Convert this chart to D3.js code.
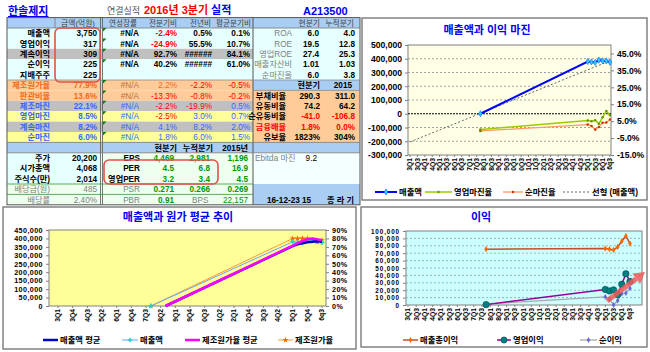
<!DOCTYPE html>
<html lang="ko">
<head>
<meta charset="UTF-8" />
<title>한솔제지 2016년 3분기 실적</title>
<script src="https://cdn.jsdelivr.net/npm/d3@7"></script>
<style>
  body { margin: 0; background: #fff; }
  text { font-family: "Liberation Sans", "Noto Sans CJK KR", sans-serif; }
</style>
</head>
<body>
<svg id="sheet" width="650" height="352"></svg>
<script>
// ---------- 표 데이터 ----------
const headLabels = ["금액(억원)", "연성장률", "전분기비", "전년비", "평균분기비"];
const rowLabels = ["매출액", "영업이익", "계속이익", "순이익", "지배주주", "제조원가율", "판관비율", "제조마진", "영업마진", "계속마진", "순마진"];
const rowKinds = ["k", "k", "kg", "k", "k", "cost", "cost", "mg", "m", "mg", "m"];
const amounts = ["3,750", "317", "309", "225", "225", "77.9%", "13.6%", "22.1%", "8.5%", "8.2%", "6.0%"];
const annualGrowth = ["#N/A", "#N/A", "#N/A", "#N/A", "", "#N/A", "#N/A", "#N/A", "#N/A", "#N/A", "#N/A"];
const vsPrevQ = ["-2.4%", "-24.9%", "92.7%", "40.2%", "", "2.2%", "-13.3%", "-2.2%", "-2.5%", "4.1%", "1.8%"];
const vsPrevY = ["0.5%", "55.5%", "######", "######", "", "-2.2%", "-0.8%", "-19.9%", "3.0%", "8.2%", "6.0%"];
const vsAvgQ = ["0.1%", "10.7%", "84.1%", "61.0%", "", "-0.5%", "-0.2%", "0.5%", "0.7%", "2.0%", "1.5%"];

const ratioLabels = ["ROA", "ROE", "영업ROE", "매출자산비", "순마진율"];
const ratioNow = ["6.0", "19.5", "27.4", "1.01", "6.0"];
const ratioCum = ["4.0", "12.8", "25.3", "1.03", "3.8"];
const debtLabels = ["부채비율", "유동비율", "순유동비율", "금융배율", "유보율"];
const debtNow = ["290.3", "74.2", "-41.0", "1.8%", "1823%"];
const debt2015 = ["311.0", "64.2", "-106.8", "0.0%", "304%"];

const stockLabels = ["주가", "시가총액", "주식수(만)", "배당금(원)", "배당률"];
const stockValues = ["20,200", "4,068", "2,014", "485", "2.40%"];
const valueLabels = ["EPS", "PER", "영업PER", "PSR", "PBR"];
const valueNow = ["4,469", "4.5", "3.2", "0.271", "0.91"];
const valueCum = ["2,981", "6.8", "3.4", "0.266", "BPS"];
const value2015 = ["1,196", "16.9", "4.5", "0.269", "22,157"];

// ---------- 차트 데이터 (백만원, %) ----------
const quarters = ["03Q1","03Q2","03Q3","03Q4","04Q1","04Q2","04Q3","04Q4","05Q1","05Q2","05Q3","05Q4",
  "06Q1","06Q2","06Q3","06Q4","07Q1","07Q2","07Q3","07Q4","08Q1","08Q2","08Q3","08Q4",
  "09Q1","09Q2","09Q3","09Q4","10Q1","10Q2","10Q3","10Q4","11Q1","11Q2","11Q3","11Q4",
  "12Q1","12Q2","12Q3","12Q4","13Q1","13Q2","13Q3","13Q4","14Q1","14Q2","14Q3","14Q4",
  "15Q1","15Q2","15Q3","15Q4","16Q1","16Q2","16Q3"];
const dataQ = ["07Q4", "15Q1", "15Q2", "15Q3", "15Q4", "16Q1", "16Q2", "16Q3"];
const revenue = [0, 380000, 377000, 373000, 390000, 385000, 384200, 375000];
const opMargin = [0, 5.4, 5.0, 5.5, 3.4, 7.3, 11.0, 8.5];
const netMargin = [-0.8, 3.0, 2.2, 0.0, 1.6, 4.0, 4.2, 6.0];
const revenueTrend = [-205000, 385000];
const grossProfit = [75500, 76300, 75400, 74400, 78500, 86100, 93300, 83000];
const opIncome = [500, 21000, 19000, 20500, 14000, 28000, 42200, 31700];
const netIncome = [1500, 11000, 8300, 0, 6000, 15400, 16100, 22500];
const costRatio = [0, 79.9, 80.0, 80.1, 79.9, 77.7, 75.7, 77.9];
const avgQ = ["08Q3", "15Q1", "15Q2", "15Q3", "15Q4", "16Q1", "16Q2", "16Q3"];
const revenueAvg = [0, 355000, 365000, 372000, 378000, 380000, 384000, 381000];
const costRatioAvg = [0, 71.4, 74.5, 77.0, 79.0, 80.0, 79.0, 78.0];
const marginTicks = [-15, -5, 5, 15, 25, 35, 45];

const svg = d3.select("#sheet");
const qLabel = q => q === "16Q3" ? "6q3" : q.slice(1);
const comma = d => d3.format(",")(d).replace("−", "-");

// ---------- 제목 줄 ----------
svg.append("text").attr("x", 8).attr("y", 15).attr("font-size", 11).attr("font-weight", "bold")
  .attr("fill", "#0000EE").attr("text-decoration", "underline").text("한솔제지");
svg.append("text").attr("x", 107).attr("y", 14).attr("font-size", 9).attr("fill", "#555").text("연결실적");
const head = svg.append("text").attr("x", 144).attr("y", 14).attr("font-size", 11).attr("font-weight", "bold");
head.append("tspan").attr("fill", "#FF0000").text("2016년 3분기 ");
head.append("tspan").attr("fill", "#0000EE").text("실적");
svg.append("text").attr("x", 303).attr("y", 15).attr("font-size", 11).attr("font-weight", "bold")
  .attr("fill", "#0000EE").text("A213500");

// ---------- 표 ----------
const T0 = 17.6, RH = 10.4;
const mid = i => T0 + i * RH + RH / 2 + 3;
const C = { head: "#A9CDF3", cyan: "#E6FFFF", gray: "#C0C0C0", orange: "#FFCC99", yellow: "#FFFF99",
  green: "#EFFFEF", red: "#FF0000", blue: "#3366FF", cost: "#F26A1B", val: "#009900", dim: "#808080" };

function band(x0, x1, i0, i1, fill) {
  svg.append("rect").attr("x", x0).attr("y", T0 + i0 * RH).attr("width", x1 - x0)
    .attr("height", (i1 - i0) * RH).attr("fill", fill);
}
function cell(x, i, s, o = {}) {
  svg.append("text").attr("x", x).attr("y", mid(i)).attr("font-size", o.size || 8.2)
    .attr("font-weight", o.bold === false ? "normal" : "bold")
    .attr("text-anchor", o.anchor || "end").attr("fill", o.color || "#000").text(s);
}

band(7, 360, 0, 1, C.head);
rowKinds.forEach((k, r) => {
  band(7, 253, r + 1, r + 2, { k: C.cyan, kg: C.gray, cost: C.orange, mg: C.gray, m: C.yellow }[k]);
});
band(7, 360, 12, 13, C.head);
band(7, 101, 13, 16, C.cyan);
band(101, 253, 13, 16, C.green);
band(7, 253, 16, 18, C.green);
band(253, 360, 1, 6, C.cyan);
band(253, 360, 6, 7, C.head);
band(253, 360, 7, 12, C.orange);
band(253, 360, 13, 16, "#F4FFFF");
band(253, 360, 16, 18, C.head);

// 선
const hl = (x0, x1, y, c, w) => svg.append("line").attr("x1", x0).attr("x2", x1).attr("y1", y).attr("y2", y)
  .attr("stroke", c).attr("stroke-width", w || 0.8);
const vl = (x, y0, y1, c, w) => svg.append("line").attr("x1", x).attr("x2", x).attr("y1", y0).attr("y2", y1)
  .attr("stroke", c).attr("stroke-width", w || 0.8);
const bottom = T0 + 18 * RH;
svg.append("rect").attr("x", 7).attr("y", T0).attr("width", 353).attr("height", 18 * RH)
  .attr("fill", "none").attr("stroke", "#555").attr("stroke-width", 1);
vl(55, T0, T0 + RH, "#777");
vl(100.5, T0, bottom, "#555", 0.8);
vl(102.5, T0, bottom, "#555", 0.8);
vl(253, T0, bottom, "#555", 1);
hl(7, 360, T0 + RH, "#777");
hl(7, 253, T0 + 6 * RH, "#888");
hl(7, 360, T0 + 12 * RH, "#777");
hl(7, 360, T0 + 13 * RH, "#777");
hl(7, 253, T0 + 16 * RH, "#339933");
hl(7, 253, T0 + 17 * RH, "#339933");
hl(253, 360, T0 + 6 * RH, "#888");
hl(253, 360, T0 + 7 * RH, "#888");

// 머리글
cell(78, 0, headLabels[0], { anchor: "middle", bold: false, color: "#444", size: 7.8 });
[137, 177, 211, 251].forEach((x, j) => cell(x, 0, headLabels[j + 1], { bold: false, color: "#444", size: 7.6 }));
cell(320, 0, "현분기", { bold: false, color: "#444", size: 7.8 });
cell(354, 0, "누적분기", { bold: false, color: "#444", size: 7.8 });

// 본문
const pctColor = (s, k) => s.startsWith("-") ? C.red
  : (k === "cost" ? C.cost : (k === "m" || k === "mg") ? C.blue : "#000");
rowLabels.forEach((lab, r) => {
  const k = rowKinds[r], i = r + 1;
  const main = k === "k" || k === "kg";
  const labColor = k === "cost" ? C.cost : main ? "#000" : C.blue;
  cell(50, i, lab, { color: labColor });
  cell(97, i, amounts[r], { color: labColor });
  if (annualGrowth[r]) cell(139, i, annualGrowth[r], { bold: main, color: main ? "#000" : k === "cost" ? "#C0703A" : C.blue });
  if (vsPrevQ[r]) cell(177, i, vsPrevQ[r], { bold: main, color: pctColor(vsPrevQ[r], k) });
  if (vsPrevY[r]) cell(212, i, vsPrevY[r], { bold: main, color: pctColor(vsPrevY[r], k) });
  if (vsAvgQ[r]) cell(250, i, vsAvgQ[r], { bold: main, color: pctColor(vsAvgQ[r], k) });
  if (annualGrowth[r]) svg.append("path").attr("d", `M103,${T0 + i * RH}h3.5l-3.5,3.5z`).attr("fill", "#008000");
});

// 오른쪽 지표
ratioLabels.forEach((lab, j) => {
  cell(292, j + 1, lab, { bold: false, color: C.dim });
  cell(319, j + 1, ratioNow[j]);
  cell(355, j + 1, ratioCum[j]);
});
cell(320, 6, "현분기");
cell(352, 6, "2015");
debtLabels.forEach((lab, j) => {
  const c = lab === "금융배율" ? C.red : "#000";
  cell(286, j + 7, lab, { color: c });
  cell(320, j + 7, debtNow[j], { color: debtNow[j].startsWith("-") || lab === "금융배율" ? C.red : "#000" });
  cell(355, j + 7, debt2015[j], { color: debt2015[j].startsWith("-") || lab === "금융배율" ? C.red : "#000" });
});

// 하단 주가 지표
cell(177, 12, "현분기");
cell(213, 12, "누적분기");
cell(248, 12, "2015년");
stockLabels.forEach((lab, j) => {
  const strong = j < 3;
  cell(50, j + 13, lab, { bold: strong, color: strong ? "#000" : C.dim });
  cell(97, j + 13, stockValues[j], { bold: strong, color: strong ? "#000" : C.dim });
  cell(140, j + 13, valueLabels[j], { bold: strong, color: strong ? "#000" : C.dim });
  cell(174, j + 13, valueNow[j], { color: C.val });
  if (valueCum[j] === "BPS") cell(192, j + 13, valueCum[j], { anchor: "start", bold: false, color: C.dim });
  else cell(210, j + 13, valueCum[j], { color: C.val });
  cell(248, j + 13, value2015[j], { color: C.val, bold: value2015[j] !== "22,157" });
});
cell(255, 13, "Ebitda 마진", { anchor: "start", bold: false, color: C.dim });
cell(317, 13, "9.2", { bold: false });
cell(267, 17, "16-12-23 15", { anchor: "start" });
cell(327, 17, "종  라  기", { anchor: "start" });

// 강조 표시
svg.append("rect").attr("x", 55).attr("y", 28).attr("width", 45).attr("height", 54).attr("rx", 5)
  .attr("fill", "none").attr("stroke", "#E4504A").attr("stroke-width", 1.6);
svg.append("rect").attr("x", 104).attr("y", 160).attr("width", 114).attr("height", 24).attr("rx", 5)
  .attr("fill", "none").attr("stroke", "#E4504A").attr("stroke-width", 1.6);

// ---------- 차트 공통 ----------
function frame(o) {
  const g = svg.append("g");
  g.append("rect").attr("x", o.box[0]).attr("y", o.box[1]).attr("width", o.box[2]).attr("height", o.box[3])
    .attr("fill", "#fff").attr("stroke", "#7a7a7a").attr("stroke-width", 1.4);
  g.append("text").attr("x", o.tx).attr("y", o.ty).attr("text-anchor", "middle").attr("font-size", 11)
    .attr("font-weight", "bold").attr("fill", "#0000EE").text(o.title);
  const [L, T, R, B] = o.plot;
  g.append("rect").attr("x", L).attr("y", T).attr("width", R - L).attr("height", B - T)
    .attr("fill", o.bg).attr("stroke", "#808080").attr("stroke-width", 1);
  const x = d3.scalePoint().domain(quarters).range(o.xr);
  const shown = quarters.filter((q, i) => i % o.every === 0);
  g.selectAll(null).data(shown).join("line")
    .attr("x1", q => x(q)).attr("x2", q => x(q)).attr("y1", B).attr("y2", B + 2).attr("stroke", "#808080");
  g.selectAll(null).data(shown).join("text")
    .attr("transform", q => `translate(${x(q) + 2.4},${B + 3}) rotate(-90)`)
    .attr("text-anchor", "end").attr("font-size", 6.8).attr("font-weight", "bold").text(qLabel);
  return { g, x, L, T, R, B };
}
function axis(g, gen, at, size, spacing) {
  const a = g.append("g").attr("transform", `translate(${at},0)`).call(gen);
  a.attr("font-size", size || 8.6).attr("font-weight", "bold");
  if (spacing) a.selectAll("text").attr("letter-spacing", spacing);
  a.select(".domain").remove();
  a.selectAll(".tick line").attr("stroke", "#808080");
  return a;
}
function legend(g, items, y) {
  items.forEach(it => {
    g.append("line").attr("x1", it.x).attr("x2", it.x + it.len).attr("y1", y).attr("y2", y)
      .attr("stroke", it.color).attr("stroke-width", it.w).attr("stroke-dasharray", it.dash || null);
    if (it.sym) g.append("path").attr("transform", `translate(${it.x + it.len / 2},${y})`)
      .attr("d", it.sym).attr("fill", it.fill).attr("stroke", it.symStroke || "none").attr("stroke-width", 0.6);
    g.append("text").attr("x", it.x + it.len + 2).attr("y", y + 3).attr("font-size", 8.3)
      .attr("font-weight", "bold").text(it.label);
  });
}
function series(g, x, y, qs, vals, color, w) {
  const pts = qs.map((q, i) => [x(q), y(vals[i])]);
  g.append("path").attr("d", d3.line()(pts)).attr("fill", "none").attr("stroke", color).attr("stroke-width", w);
  return pts;
}
function marks(g, pts, sym, fill, stroke) {
  g.selectAll(null).data(pts).join("path").attr("transform", p => `translate(${p[0]},${p[1]})`)
    .attr("d", sym).attr("fill", fill).attr("stroke", stroke || "none").attr("stroke-width", 0.6);
}
const diamond = d3.symbol(d3.symbolDiamond, 11)();
const smallDot = d3.symbol(d3.symbolCircle, 5)();
const cross = d3.symbol(d3.symbolCross, 12)();
const star = d3.symbol(d3.symbolStar, 12)();

// ---------- 매출액과 이익 마진 ----------
{
  const c = frame({ box: [362, 18, 285, 182], title: "매출액과 이익 마진", tx: 487, ty: 34,
    plot: [408, 45, 611, 155], bg: "#FFFFE6", xr: [410, 610], every: 2 });
  const y = d3.scaleLinear().domain([-300000, 500000]).range([c.B, c.T]);
  const y2 = d3.scaleLinear().domain([-15, 50]).range([c.B, c.T]);
  y.ticks(8).filter(v => v > -300000 && v < 500000).forEach(v => {
    c.g.append("line").attr("x1", c.L).attr("x2", c.R).attr("y1", y(v)).attr("y2", y(v))
      .attr("stroke", v === 0 ? "#000" : "#A0A0A0").attr("stroke-dasharray", v === 0 ? "2,1" : "2,2");
  });
  axis(c.g, d3.axisLeft(y).ticks(8).tickSize(3).tickFormat(comma), c.L);
  axis(c.g, d3.axisRight(y2).tickValues(marginTicks).tickSize(3).tickFormat(d => d.toFixed(1) + "%"), c.R);
  c.g.append("line").attr("x1", c.x(quarters[0])).attr("x2", c.x(quarters[quarters.length - 1]))
    .attr("y1", y(revenueTrend[0])).attr("y2", y(revenueTrend[1]))
    .attr("stroke", "#666").attr("stroke-width", 1).attr("stroke-dasharray", "2,2");
  marks(c.g, series(c.g, c.x, y2, dataQ, netMargin, "#FF9966", 1.3), smallDot, "#CC3300");
  marks(c.g, series(c.g, c.x, y2, dataQ, opMargin, "#99CC00", 1.5), smallDot, "#669900");
  marks(c.g, series(c.g, c.x, y, dataQ, revenue, "#0000FF", 2), diamond, "#33CCFF", "#0066FF");
  legend(c.g, [
    { x: 375, len: 22, color: "#0000FF", w: 2, sym: diamond, fill: "#33CCFF", symStroke: "#0066FF", label: "매출액" },
    { x: 425, len: 27, color: "#99CC00", w: 1.5, sym: smallDot, fill: "#669900", label: "영업마진율" },
    { x: 503, len: 20, color: "#FF9966", w: 1.3, sym: smallDot, fill: "#CC3300", label: "순마진율" },
    { x: 563, len: 27, color: "#666", w: 1, dash: "2,2", label: "선형 (매출액)" }
  ], 192);
}

// ---------- 매출액과 원가 평균 추이 ----------
{
  const c = frame({ box: [3, 207, 353, 142], title: "매출액과 원가 평균 추이", tx: 178, ty: 221,
    plot: [49, 230, 326, 306], bg: "#FFFF99", xr: [58, 322], every: 3 });
  const y = d3.scaleLinear().domain([0, 450000]).range([c.B, c.T]);
  const y2 = d3.scaleLinear().domain([0, 90]).range([c.B, c.T]);
  axis(c.g, d3.axisLeft(y).ticks(9).tickSize(3).tickFormat(comma), c.L, 7.2, 0.4);
  axis(c.g, d3.axisRight(y2).ticks(9).tickSize(3).tickFormat(d => d + "%"), c.R, 7.2, 0.4);
  marks(c.g, series(c.g, c.x, y2, dataQ, costRatio, "#FF9933", 1), star, "#FF6600");
  marks(c.g, series(c.g, c.x, y, dataQ, revenue, "#66A3FF", 1), cross, "#33CCCC");
  series(c.g, c.x, y, avgQ, revenueAvg, "#0000CC", 2.5);
  series(c.g, c.x, y2, avgQ, costRatioAvg, "#FF00FF", 2.5);
  legend(c.g, [
    { x: 43, len: 15, color: "#0000CC", w: 2.5, label: "매출액 평균" },
    { x: 122, len: 16, color: "#66A3FF", w: 1, sym: cross, fill: "#33CCCC", label: "매출액" },
    { x: 185, len: 15, color: "#FF00FF", w: 2.5, label: "제조원가율 평균" },
    { x: 278, len: 15, color: "#FF9933", w: 1, sym: star, fill: "#FF6600", label: "제조원가율" }
  ], 340);
}

// ---------- 이익 ----------
{
  const c = frame({ box: [361, 207, 286, 140], title: "이익", tx: 481, ty: 221,
    plot: [406, 231, 642, 305], bg: "#CCFFFF", xr: [408, 630], every: 2 });
  const y = d3.scaleLinear().domain([0, 100000]).range([c.B, c.T]);
  y.ticks(10).filter(v => v > 0 && v < 100000).forEach(v => {
    c.g.append("line").attr("x1", c.L).attr("x2", c.R).attr("y1", y(v)).attr("y2", y(v))
      .attr("stroke", "#9AB8B8").attr("stroke-dasharray", "2,2");
  });
  axis(c.g, d3.axisLeft(y).ticks(10).tickSize(3).tickFormat(comma), c.L, 6.3, 0.9);
  marks(c.g, series(c.g, c.x, y, dataQ, grossProfit, "#C0502A", 1.5), diamond, "#FF6600");
  marks(c.g, series(c.g, c.x, y, dataQ, netIncome, "#A8A8A8", 1.3), d3.symbol(d3.symbolDiamond, 10)(), "#6666DD");
  const op = series(c.g, c.x, y, dataQ, opIncome, "#990099", 1.5);
  c.g.selectAll(null).data(op).join("circle").attr("cx", p => p[0]).attr("cy", p => p[1]).attr("r", 3.2)
    .attr("fill", "#008080").attr("stroke", "#004848").attr("stroke-width", 0.6);
  // 상승 화살표 (주석)
  const a0 = [607, 301], a1 = [645, 272];
  const dx = a1[0] - a0[0], dy = a1[1] - a0[1], len = Math.hypot(dx, dy);
  const u = [dx / len, dy / len], n = [-u[1], u[0]];
  const base = [a1[0] - 11 * u[0], a1[1] - 11 * u[1]];
  c.g.append("line").attr("x1", a0[0]).attr("y1", a0[1]).attr("x2", base[0]).attr("y2", base[1])
    .attr("stroke", "#F05A5A").attr("stroke-width", 5).attr("opacity", 0.85);
  c.g.append("path").attr("d", `M${a1[0]},${a1[1]}L${base[0] + 6.5 * n[0]},${base[1] + 6.5 * n[1]}L${base[0] - 6.5 * n[0]},${base[1] - 6.5 * n[1]}Z`)
    .attr("fill", "#F05A5A").attr("opacity", 0.85);
  legend(c.g, [
    { x: 403, len: 15, color: "#C0502A", w: 1.5, sym: diamond, fill: "#FF6600", label: "매출총이익" },
    { x: 497, len: 14, color: "#990099", w: 1.5, sym: d3.symbol(d3.symbolCircle, 30)(), fill: "#008080", symStroke: "#004848", label: "영업이익" },
    { x: 580, len: 17, color: "#A8A8A8", w: 1.3, sym: d3.symbol(d3.symbolDiamond, 10)(), fill: "#6666DD", label: "순이익" }
  ], 340);
}
</script>
</body>
</html>
